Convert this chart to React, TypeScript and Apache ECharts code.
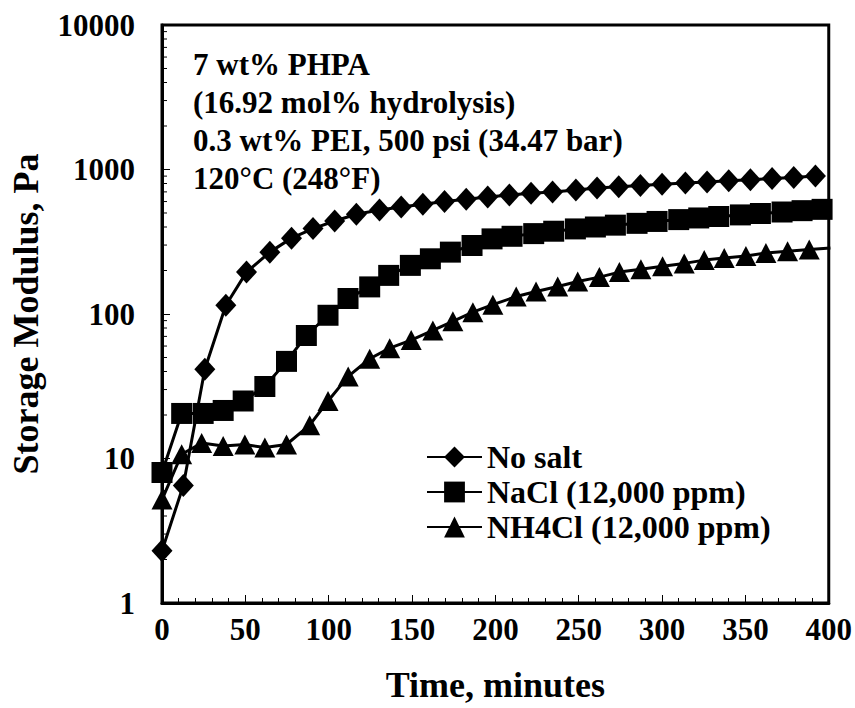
import React, { useEffect, useRef } from "react";
import * as echarts from "echarts";

// ---- data ----
const timeNoSalt = [0, 12.8, 25.7, 38.3, 50.7, 64.7, 77.7, 90.6, 103.6, 116.6, 130.5, 143.5, 156.5, 169.5, 182.5, 195.4, 208.4, 221.4, 234.3, 248.3, 261, 274, 287, 300, 314, 327, 340, 353, 366, 379, 392];
const noSalt = [2.3, 6.5, 41.5, 115, 195, 268, 335, 390, 440, 490, 525, 550, 575, 600, 622, 645, 665, 685, 700, 720, 745, 760, 775, 790, 805, 820, 835, 850, 865, 880, 900];

const timeNaCl = [0, 11.8, 24.7, 36.7, 48.7, 61.7, 74.7, 86.6, 99.6, 111.6, 124.6, 136, 149, 161, 173, 186, 198, 210, 223, 235, 248, 260, 272, 285, 297, 310, 322, 334, 347, 359, 372, 384, 396];
const naCl = [8, 20.5, 20.5, 21.5, 25, 31.5, 47, 71, 98, 128, 154, 185, 217, 241, 268, 298, 331, 345, 360, 374, 388, 400, 412, 424, 437, 450, 462, 473, 485, 496, 508, 519, 530];

const timeNH4Cl = [0, 11.8, 23.8, 36.7, 49.7, 61.7, 74.7, 88.6, 99.6, 111.7, 124.6, 136.6, 149.5, 162.5, 174.5, 186.5, 198.5, 212.5, 224.4, 237.4, 249.4, 262.4, 274.4, 287.3, 300.3, 313.3, 325.3, 337.3, 350.3, 362.3, 375.3, 388.3, 401];
const nh4Cl = [5.2, 10.7, 12.8, 12.2, 12.5, 11.9, 12.5, 17, 25, 37, 49, 58, 66, 77, 89, 103, 116, 132, 143, 155, 168, 180, 195, 204, 214, 224, 236, 244, 252, 264, 272, 279, 286];

const seriesNames = ["No salt", "NaCl (12,000 ppm)", "NH4Cl (12,000 ppm)"];
const xTicks = [0, 50, 100, 150, 200, 250, 300, 350, 400];
const yMinorTickValues = [2, 3, 4, 5, 6, 7, 8, 9, 20, 30, 40, 50, 60, 70, 80, 90, 200, 300, 400, 500, 600, 700, 800, 900, 2000, 3000, 4000, 5000, 6000, 7000, 8000, 9000];
const noteLines = ["7 wt% PHPA", "(16.92 mol% hydrolysis)", "0.3 wt% PEI, 500 psi (34.47 bar)", "120°C (248°F)"];

const FONT = '"Liberation Serif", "Times New Roman", serif';

const pairs = (xs: number[], ys: number[]) => xs.map((x, i) => [x, ys[i]]);

export default function App() {
  const ref = useRef<HTMLDivElement>(null);
  useEffect(() => {
    if (!ref.current) return;
    const chart = echarts.init(ref.current, undefined, { renderer: "svg" });
    const lineCommon = {
      type: "line" as const,
      lineStyle: { color: "#000", width: 3 },
      itemStyle: { color: "#000" },
      showSymbol: true,
      clip: true,
    };
    const noteY = [64, 102, 140, 178];
    chart.setOption({
      animation: false,
      backgroundColor: "#fff",
      grid: {
        left: 162,
        right: 25,
        top: 25,
        bottom: 102,
        show: true,
        borderColor: "#000",
        borderWidth: 3,
        backgroundColor: "transparent",
      },
      legend: {
        orient: "vertical",
        left: 421,
        top: 436,
        itemWidth: 55,
        itemHeight: 26,
        itemGap: 3,
        data: seriesNames,
        textStyle: { fontFamily: FONT, fontWeight: "bold", fontSize: 32, color: "#000" },
      },
      xAxis: {
        type: "value",
        min: 0,
        max: 400,
        interval: 50,
        axisLine: { show: true, lineStyle: { color: "#000", width: 3 } },
        axisTick: { show: true, inside: true, length: 8, lineStyle: { color: "#000", width: 1 } },
        minorTick: { show: true, splitNumber: 5, length: 5, lineStyle: { color: "#000", width: 1 } },
        splitLine: { show: false },
        axisLabel: {
          fontFamily: FONT,
          fontWeight: "bold",
          fontSize: 31,
          color: "#000",
          margin: 11,
          customValues: xTicks,
        },
        name: "Time, minutes",
        nameLocation: "middle",
        nameGap: 64,
        nameTextStyle: { fontFamily: FONT, fontWeight: "bold", fontSize: 36, color: "#000" },
      },
      yAxis: {
        type: "log",
        logBase: 10,
        min: 1,
        max: 10000,
        axisLine: { show: true, lineStyle: { color: "#000", width: 3 } },
        axisTick: { show: true, inside: true, length: 8, lineStyle: { color: "#000", width: 1 } },
        splitLine: { show: false },
        axisLabel: {
          fontFamily: FONT,
          fontWeight: "bold",
          fontSize: 31,
          color: "#000",
          margin: 27,
          formatter: (v: number) => String(v),
        },
        name: "Storage Modulus, Pa",
        nameLocation: "middle",
        nameGap: 118,
        nameTextStyle: { fontFamily: FONT, fontWeight: "bold", fontSize: 36, color: "#000" },
      },
      graphic: noteLines.map((t, i) => ({
        type: "text",
        x: 193,
        y: noteY[i],
        style: {
          text: t,
          font: `bold 31px ${FONT}`,
          fill: "#000",
          verticalAlign: "middle",
        },
        z: 10,
      })),
      series: [
        {
          type: "custom",
          name: "minorY",
          silent: true,
          data: yMinorTickValues.map((v) => [0, v]),
          renderItem: (params: any, api: any) => {
            const p = api.coord([0, api.value(1)]);
            return {
              type: "line",
              shape: { x1: p[0], y1: p[1], x2: p[0] + 5, y2: p[1] },
              style: { stroke: "#000", lineWidth: 1 },
            };
          },
          z: 1,
        },
        { ...lineCommon, name: seriesNames[0], symbol: "diamond", symbolSize: [21, 23], data: pairs(timeNoSalt, noSalt), z: 3 },
        { ...lineCommon, name: seriesNames[1], symbol: "rect", symbolSize: 21, data: pairs(timeNaCl, naCl), z: 4 },
        { ...lineCommon, name: seriesNames[2], symbol: "triangle", symbolSize: [21, 20], data: pairs(timeNH4Cl, nh4Cl), z: 5 },
      ],
    });
    return () => chart.dispose();
  }, []);
  return <div ref={ref} style={{ position: "absolute", left: 0, top: 0, width: 855, height: 708 }} />;
}
